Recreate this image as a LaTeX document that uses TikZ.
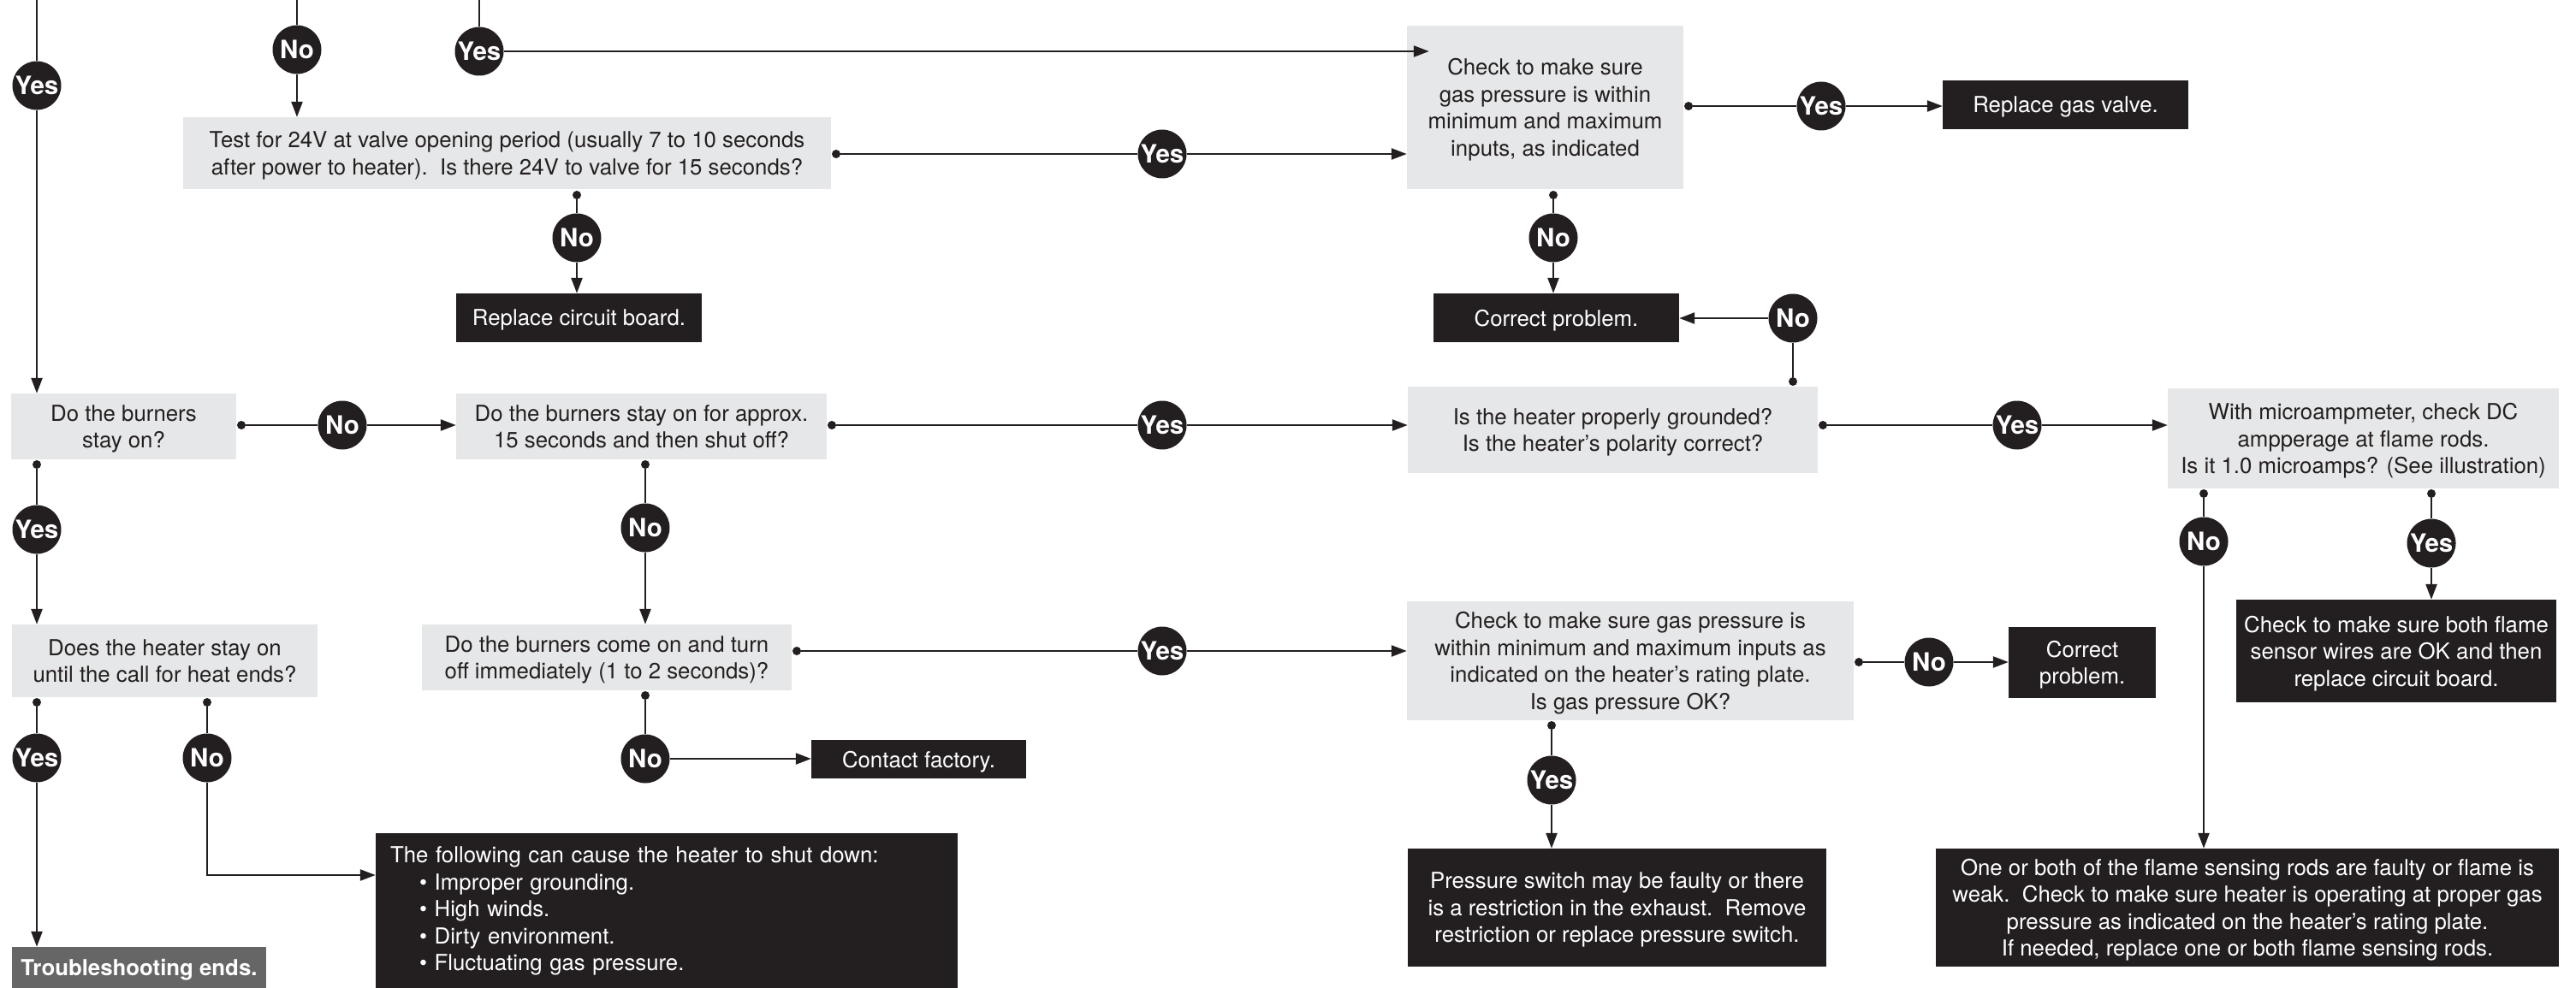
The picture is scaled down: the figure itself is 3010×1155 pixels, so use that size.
\documentclass[tikz,border=0pt]{standalone}
\usepackage{fontspec}
\setmainfont{TeX Gyre Heros}
\usetikzlibrary{arrows.meta,calc}
\definecolor{boxgray}{HTML}{E6E7E8}
\definecolor{boxblack}{HTML}{231F20}
\definecolor{tsgray}{HTML}{666666}
\newcommand\mainfnt{\fontsize{25.8}{31.5}\selectfont}
\newcommand\ynfnt{\fontsize{29.5}{29.5}\selectfont\bfseries}
\begin{document}
\begin{tikzpicture}[x=1pt,y=-1pt,
  gbox/.style={fill=boxgray, text=boxblack, inner sep=0pt, align=center, font=\mainfnt, text depth=-3.5pt},
  kbox/.style={fill=boxblack, text=white, inner sep=0pt, align=center, font=\mainfnt, text depth=-3.5pt},
  kboxleft/.style={fill=boxblack, text=white, inner ysep=0pt, align=left, font=\mainfnt},
  yn/.style={circle, fill=boxblack, text=white, minimum size=57pt, inner sep=0pt, font=\ynfnt},
  dot/.style={circle, fill=boxblack, minimum size=10pt, inner sep=0pt},
  conn/.style={draw=boxblack, line width=2.4pt},
  arr/.style={conn, -{Triangle[length=18pt,width=13pt]}}]
\useasboundingbox (0,0) rectangle (3010,1155);

% ---------- boxes ----------
\node[gbox, minimum width=757pt, minimum height=84pt] (test) at (592.5,179)
  {Test for 24V at valve opening period (usually 7 to 10 seconds\\after power to heater).~~Is there 24V to valve for 15 seconds?};
\node[gbox, minimum width=323pt, minimum height=191pt] (check1) at (1805.5,125.5)
  {Check to make sure\\gas pressure is within\\minimum and maximum\\inputs, as indicated};
\node[kbox, minimum width=287pt, minimum height=57pt] (rcb) at (676.5,371.5) {Replace circuit board.};
\node[kbox, minimum width=287pt, minimum height=57pt] (rgv) at (2413.5,122.5) {Replace gas valve.};
\node[kbox, minimum width=287pt, minimum height=57pt] (cp1) at (1818.5,371.5) {Correct problem.};
\node[gbox, minimum width=263pt, minimum height=77pt] (b1) at (144.5,498.5) {Do the burners\\stay on?};
\node[gbox, minimum width=433pt, minimum height=77pt] (b2) at (749.5,498.5)
  {Do the burners stay on for approx.\\15 seconds and then shut off?};
\node[gbox, minimum width=479pt, minimum height=101pt] (grd) at (1884.5,502.5)
  {Is the heater properly grounded?\\Is the heater’s polarity correct?};
\node[gbox, minimum width=457pt, minimum height=117pt] (mic) at (2761.5,512.5)
  {With microampmeter, check DC\\ampperage at flame rods.\\Is it 1.0 microamps? (See illustration)};
\node[gbox, minimum width=357pt, minimum height=85pt] (b3) at (192.5,772.5)
  {Does the heater stay on\\until the call for heat ends?};
\node[gbox, minimum width=432pt, minimum height=77pt] (b4) at (709,768.5)
  {Do the burners come on and turn\\off immediately (1 to 2 seconds)?};
\node[gbox, minimum width=522pt, minimum height=139pt] (gas2) at (1905,772.5)
  {Check to make sure gas pressure is\\within minimum and maximum inputs as\\indicated on the heater’s rating plate.\\Is gas pressure OK?};
\node[kbox, minimum width=172pt, minimum height=83pt] (cp2) at (2433,774.5) {Correct\\problem.};
\node[kbox, minimum width=374pt, minimum height=120pt] (fs) at (2800,761)
  {Check to make sure both flame\\sensor wires are OK and then\\replace circuit board.};
\node[kbox, fill=tsgray, minimum width=297pt, minimum height=48pt, font=\mainfnt\bfseries] (ts) at (162.5,1131)
  {Troubleshooting ends.};
\node[kboxleft, inner xsep=17pt, text width=646pt, minimum width=680pt, minimum height=182pt] (sd) at (779,1065)
  {The following can cause the heater to shut down:\\
   \hspace*{34pt}• Improper grounding.\\
   \hspace*{34pt}• High winds.\\
   \hspace*{34pt}• Dirty environment.\\
   \hspace*{34pt}• Fluctuating gas pressure.};
\node[kbox, minimum width=251pt, minimum height=45pt] (cf) at (1073.5,887.5) {Contact factory.};
\node[kbox, minimum width=489pt, minimum height=138pt] (ps) at (1889.5,1061)
  {Pressure switch may be faulty or there\\is a restriction in the exhaust.~~Remove\\restriction or replace pressure switch.};
\node[kbox, minimum width=728pt, minimum height=138pt] (ob) at (2626,1061)
  {One or both of the flame sensing rods are faulty or flame is\\weak.~~Check to make sure heater is operating at proper gas\\pressure as indicated on the heater’s rating plate.\\If needed, replace one or both flame sensing rods.};

% ---------- yes / no markers ----------
\node[yn] (Y0) at (43,100) {Yes};
\node[yn] (N0) at (347,58) {No};
\node[yn] (YT) at (560,60) {Yes};
\node[yn] (Y1) at (1358,180) {Yes};
\node[yn] (N1) at (674,278) {No};
\node[yn] (Y2) at (2128,124) {Yes};
\node[yn] (N2) at (1815,278) {No};
\node[yn] (N3) at (2095,372) {No};
\node[yn] (Yb1) at (43,619) {Yes};
\node[yn] (Nb1) at (400,497) {No};
\node[yn] (Yb2) at (1358,497) {Yes};
\node[yn] (Ygr) at (2357,497) {Yes};
\node[yn] (Nb2) at (754,617) {No};
\node[yn] (Yb4) at (1358,761) {Yes};
\node[yn] (Nb4) at (754,887) {No};
\node[yn] (Yb3) at (43,886) {Yes};
\node[yn] (Nb3) at (242,886) {No};
\node[yn] (Ng2) at (2254,774) {No};
\node[yn] (Yg2) at (1813,912) {Yes};
\node[yn] (Nm) at (2575,633) {No};
\node[yn] (Ym) at (2841,635) {Yes};

% ---------- start dots ----------
\node[dot] (dTe) at (977,180) {};
\node[dot] (dTs) at (674,228) {};
\node[dot] (dCe) at (1973,124) {};
\node[dot] (dCs) at (1815,228) {};
\node[dot] (dGn) at (2095,446) {};
\node[dot] (db1e) at (282,497) {};
\node[dot] (db1s) at (43,543) {};
\node[dot] (db2e) at (972,497) {};
\node[dot] (db2s) at (754,543) {};
\node[dot] (dGe) at (2130,497) {};
\node[dot] (db3a) at (43,821) {};
\node[dot] (db3b) at (242,821) {};
\node[dot] (db4e) at (931,761) {};
\node[dot] (db4s) at (754,813) {};
\node[dot] (dg2e) at (2172,774) {};
\node[dot] (dg2s) at (1813,848) {};
\node[dot] (dma) at (2575,577) {};
\node[dot] (dmb) at (2841,577) {};

\coordinate (topL) at (43,0);
\coordinate (topN) at (347,0);
\coordinate (topY) at (560,0);

% ---------- connectors ----------
\draw[conn] (topL) -- (Y0);  \draw[arr] (Y0) -- (b1.north -| Y0);
\draw[conn] (topN) -- (N0);  \draw[arr] (N0) -- (test.north -| N0);
\draw[conn] (topY) -- (YT);  \draw[arr] (YT) -- ([xshift=26pt]check1.west |- YT);
\draw[conn] (dTe) -- (Y1);   \draw[arr] (Y1) -- (check1.west |- Y1);
\draw[conn] (dTs) -- (N1);   \draw[arr] (N1) -- (rcb.north -| N1);
\draw[conn] (dCe) -- (Y2);   \draw[arr] (Y2) -- (rgv.west |- Y2);
\draw[conn] (dCs) -- (N2);   \draw[arr] (N2) -- (cp1.north -| N2);
\draw[conn] (dGn) -- (N3);   \draw[arr] (N3) -- (cp1.east |- N3);
\draw[conn] (db1s) -- (Yb1); \draw[arr] (Yb1) -- (b3.north -| Yb1);
\draw[conn] (db1e) -- (Nb1); \draw[arr] (Nb1) -- (b2.west |- Nb1);
\draw[conn] (db2e) -- (Yb2); \draw[arr] (Yb2) -- (grd.west |- Yb2);
\draw[conn] (dGe) -- (Ygr);  \draw[arr] (Ygr) -- (mic.west |- Ygr);
\draw[conn] (db2s) -- (Nb2); \draw[arr] (Nb2) -- (b4.north -| Nb2);
\draw[conn] (db4e) -- (Yb4); \draw[arr] (Yb4) -- (gas2.west |- Yb4);
\draw[conn] (db4s) -- (Nb4); \draw[arr] (Nb4) -- (cf.west |- Nb4);
\draw[conn] (db3a) -- (Yb3); \draw[arr] (Yb3) -- (ts.north -| Yb3);
\draw[conn] (db3b) -- (Nb3); \draw[arr] (Nb3) |- ([yshift=42pt]sd.west);
\draw[conn] (dg2e) -- (Ng2); \draw[arr] (Ng2) -- (cp2.west |- Ng2);
\draw[conn] (dg2s) -- (Yg2); \draw[arr] (Yg2) -- (ps.north -| Yg2);
\draw[conn] (dma) -- (Nm);   \draw[arr] (Nm) -- (ob.north -| Nm);
\draw[conn] (dmb) -- (Ym);   \draw[arr] (Ym) -- (fs.north -| Ym);
\end{tikzpicture}
\end{document}
